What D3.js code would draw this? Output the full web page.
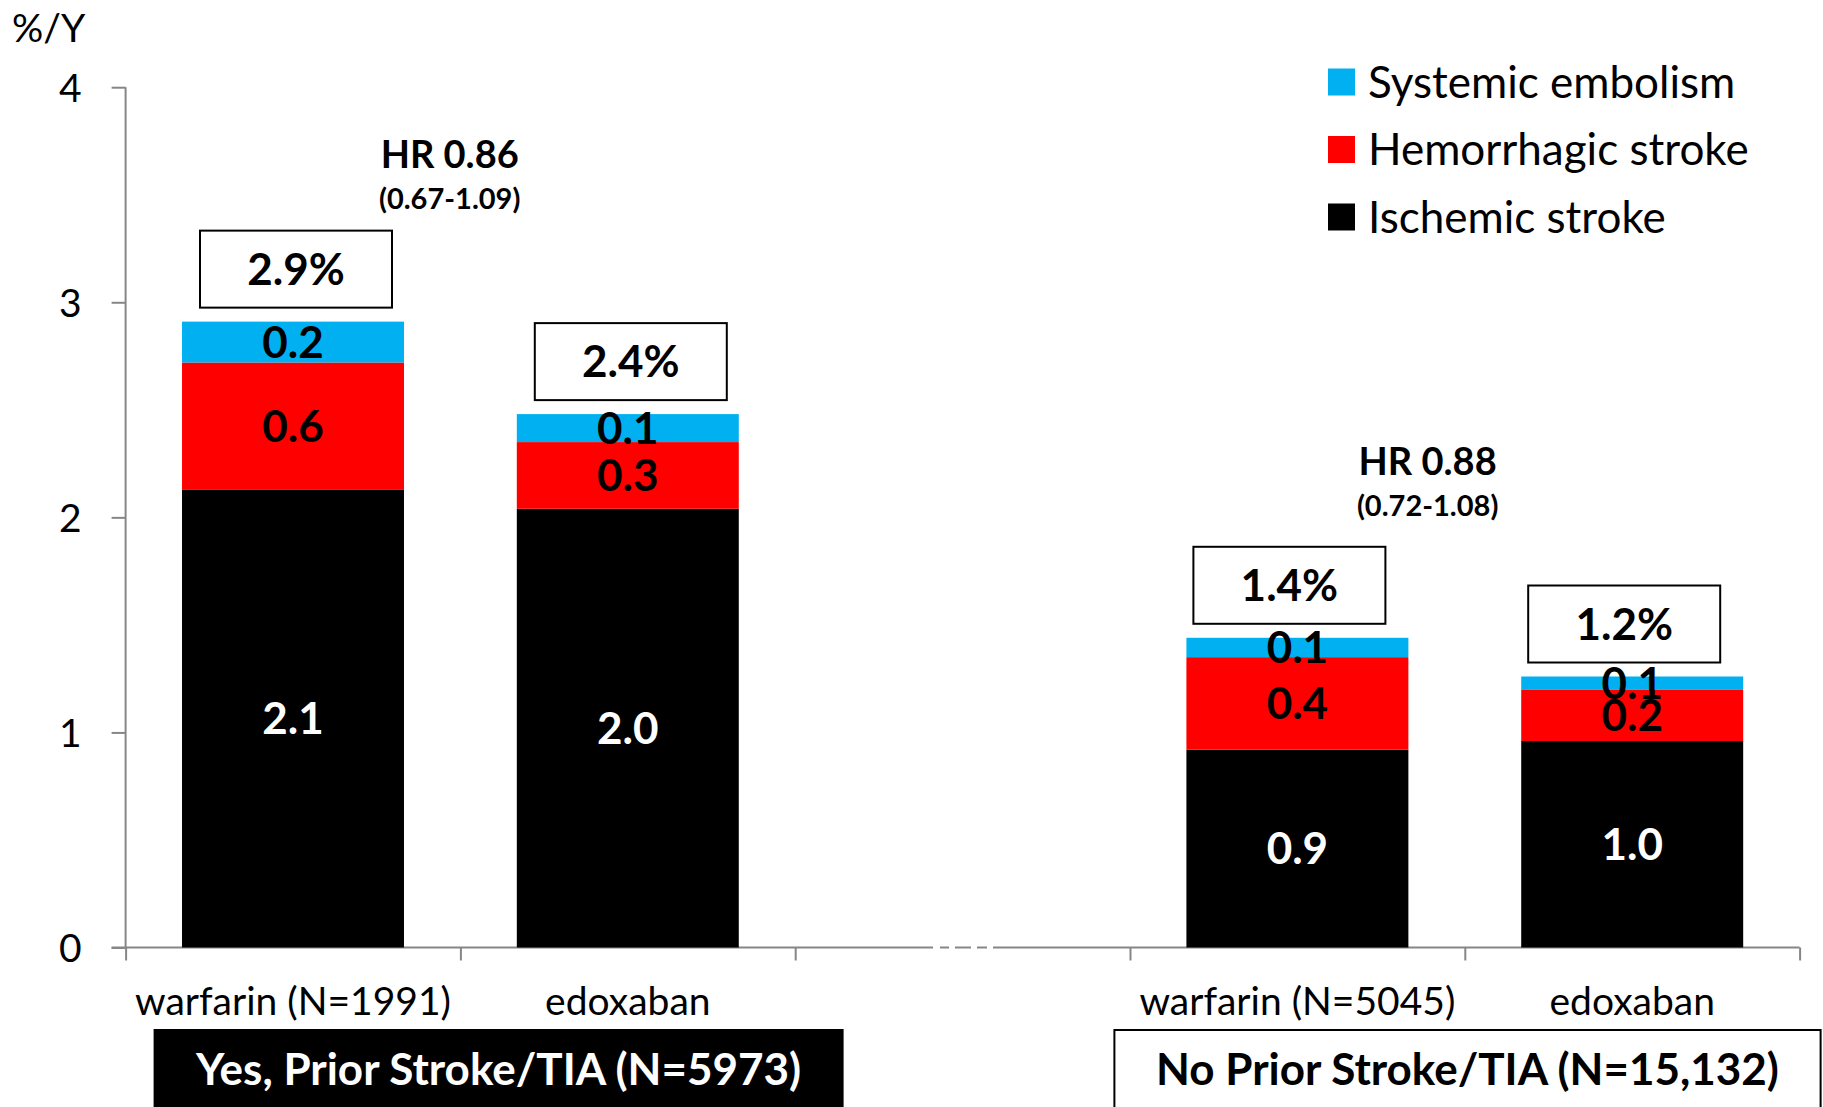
<!DOCTYPE html>
<html><head><meta charset="utf-8">
<script src="https://cdn.jsdelivr.net/npm/d3@7"></script>
<style>
body{margin:0;background:#fff}
svg{display:block}
text{font-family:Lato, "Open Sans", sans-serif}
</style>
</head><body><svg id="c" width="1823" height="1107"></svg>
<script>
// ---- data ----
const categories = ["w1","e1","gap","w2","e2"];
const categoryLabels = ["warfarin (N=1991)","edoxaban","","warfarin (N=5045)","edoxaban"];
const ischemic = [2.13, 2.04, null, 0.92, 0.96];
const hemorrhagic = [0.59, 0.31, null, 0.43, 0.24];
const systemic = [0.19, 0.13, null, 0.09, 0.06];
const ischemicLabels = ["2.1","2.0","","0.9","1.0"];
const hemorrhagicLabels = ["0.6","0.3","","0.4","0.2"];
const systemicLabels = ["0.2","0.1","","0.1","0.1"];
const totalLabels = ["2.9%","2.4%","","1.4%","1.2%"];
const seriesKeys = ["ischemic","hemorrhagic","systemic"];
const seriesNames = ["Systemic embolism","Hemorrhagic stroke","Ischemic stroke"];
const seriesColors = ["#00B0F0","#FF0000","#000000"];
const yTicks = [0,1,2,3,4];
const hrMain = ["HR 0.86","HR 0.88"];
const hrCI = ["(0.67-1.09)","(0.72-1.08)"];
const groupLabels = ["Yes, Prior Stroke/TIA (N=5973)","No Prior Stroke/TIA (N=15,132)"];

// ---- layout ----
const svg = d3.select("#c");
const x = d3.scaleBand().domain(categories).range([125.6, 1799.6]).padding(0);
const y = d3.scaleLinear().domain([0,4]).range([947.5, 87.2]);
const barFrac = 0.663;
const bw = x.bandwidth()*barFrac;
const cx = c => x(c) + x.bandwidth()/2;

const rows = categories.map((c,i)=>({cat:c, ischemic:ischemic[i]||0, hemorrhagic:hemorrhagic[i]||0, systemic:systemic[i]||0, has: ischemic[i]!=null}));
const stacked = d3.stack().keys(seriesKeys)(rows);
const colorOf = {ischemic:"#000000", hemorrhagic:"#FF0000", systemic:"#00B0F0"};
const labelsOf = {ischemic:ischemicLabels, hemorrhagic:hemorrhagicLabels, systemic:systemicLabels};
const labelColor = {ischemic:"#fff", hemorrhagic:"#000", systemic:"#000"};

// axes
const axisColor = "#868686";
const yAxis = svg.append("g").attr("transform",`translate(${x.range()[0]},0)`)
  .call(d3.axisLeft(y).tickValues(yTicks).tickFormat(d3.format("d")).tickSize(14).tickPadding(30));
yAxis.selectAll("path,line").attr("stroke",axisColor).attr("stroke-width",2);
yAxis.selectAll("text").attr("font-size",39).attr("fill","#000").attr("dy","0.36em");
yAxis.select(".domain").attr("d",`M0,${y(4)}V${y(0)}`);

const xb = d3.scaleLinear().domain([0,categories.length]).range(x.range());
const xAxis = svg.append("g").attr("transform",`translate(0,${y(0)})`)
  .call(d3.axisBottom(xb).tickValues(d3.range(categories.length+1)).tickFormat("").tickSize(13).tickSizeOuter(0));
xAxis.selectAll("path,line").attr("stroke",axisColor).attr("stroke-width",2);
xAxis.select(".domain").attr("d",`M${x.range()[0]-14},0H${x.range()[1]}`);
// axis break
svg.append("rect").attr("x",933).attr("y",y(0)-3).attr("width",60).attr("height",6).attr("fill","#fff");
[[940,949],[955,971],[977,987]].forEach(s=>svg.append("line").attr("x1",s[0]).attr("x2",s[1]).attr("y1",y(0)).attr("y2",y(0)).attr("stroke",axisColor).attr("stroke-width",2));

const xl = svg.append("g").attr("transform",`translate(0,${y(0)+54})`)
  .call(d3.axisBottom(x).tickSize(0).tickFormat((d,i)=>categoryLabels[i]));
xl.select(".domain").remove();
xl.selectAll("text").attr("font-size",39).attr("fill","#000").attr("dy","0.35em").attr("y",0);

// bars
const layers = svg.append("g").selectAll("g").data(stacked).join("g").attr("fill",d=>colorOf[d.key]);
layers.selectAll("rect").data(d=>d.filter(p=>p.data.has)).join("rect")
  .attr("x",d=>cx(d.data.cat)-bw/2).attr("width",bw)
  .attr("y",d=>y(d[1])).attr("height",d=>y(d[0])-y(d[1]));

// segment labels
stacked.forEach(layer=>{
  svg.append("g").selectAll("text").data(layer.filter(p=>p.data.has)).join("text")
    .attr("x",d=>cx(d.data.cat)).attr("y",d=>(y(d[0])+y(d[1]))/2)
    .attr("text-anchor","middle").attr("dy","0.36em")
    .attr("font-size",44).attr("font-weight","bold").attr("fill",labelColor[layer.key])
    .text(d=>labelsOf[layer.key][categories.indexOf(d.data.cat)]);
});

// total boxes
const topLayer = stacked[stacked.length-1];
const boxW = 192, boxH = 77, boxGap = 14;
const boxShift = {w1:3, e1:3, w2:-8, e2:-8};
const tb = svg.append("g").selectAll("g").data(topLayer.filter(p=>p.data.has)).join("g")
  .attr("transform",d=>`translate(${cx(d.data.cat)-boxW/2+boxShift[d.data.cat]},${y(d[1])-boxGap-boxH})`);
tb.append("rect").attr("width",boxW).attr("height",boxH).attr("fill","#fff").attr("stroke","#000").attr("stroke-width",2);
tb.append("text").attr("x",boxW/2).attr("y",boxH/2).attr("dy","0.36em").attr("text-anchor","middle")
  .attr("font-size",44).attr("font-weight","bold").text(d=>totalLabels[categories.indexOf(d.data.cat)]);

// HR annotations
const hrPos = [{cat:"w1", dx:0.468, dy:-167}, {cat:"w2", dx:0.389, dy:-176}];
hrPos.forEach((p,i)=>{
  const idx = categories.indexOf(p.cat);
  const tot = Math.max(ischemic[idx]+hemorrhagic[idx]+systemic[idx], ischemic[idx+1]+hemorrhagic[idx+1]+systemic[idx+1]);
  const hx = cx(p.cat) + p.dx*x.step();
  const hy = y(tot) + p.dy;
  svg.append("text").attr("x",hx).attr("y",hy).attr("dy","0.36em").attr("text-anchor","middle")
    .attr("font-size",38).attr("font-weight","bold").text(hrMain[i]);
  svg.append("text").attr("x",hx).attr("y",hy+44).attr("dy","0.36em").attr("text-anchor","middle")
    .attr("font-size",29).attr("font-weight","bold").text(hrCI[i]);
});

// y unit
svg.append("text").attr("x",12).attr("y",42).attr("font-size",39).text("%/Y");

// legend
const lg = svg.append("g").selectAll("g").data(seriesNames).join("g")
  .attr("transform",(d,i)=>`translate(1328,${82+i*67.5})`);
lg.append("rect").attr("x",0).attr("y",-13.5).attr("width",27).attr("height",27).attr("fill",(d,i)=>seriesColors[i]);
lg.append("text").attr("x",40).attr("dy","0.36em").attr("font-size",44).text(d=>d);

// group labels
const gb = [
  {x0: x("w1")+29, x1: x("gap")+47.4, fill:"#000", color:"#fff"},
  {x0: x("w2")-15.6, x1: x.range()[1]+21, fill:"#fff", color:"#000"}
];
gb.forEach((g,i)=>{
  svg.append("rect").attr("x",g.x0).attr("y",1030).attr("width",g.x1-g.x0).attr("height",100)
    .attr("fill",g.fill).attr("stroke","#000").attr("stroke-width",2);
  svg.append("text").attr("x",(g.x0+g.x1)/2).attr("y",1069.6).attr("dy","0.36em").attr("text-anchor","middle")
    .attr("font-size",44).attr("font-weight","bold").attr("fill",g.color).text(groupLabels[i]);
});
</script>
</body></html>
